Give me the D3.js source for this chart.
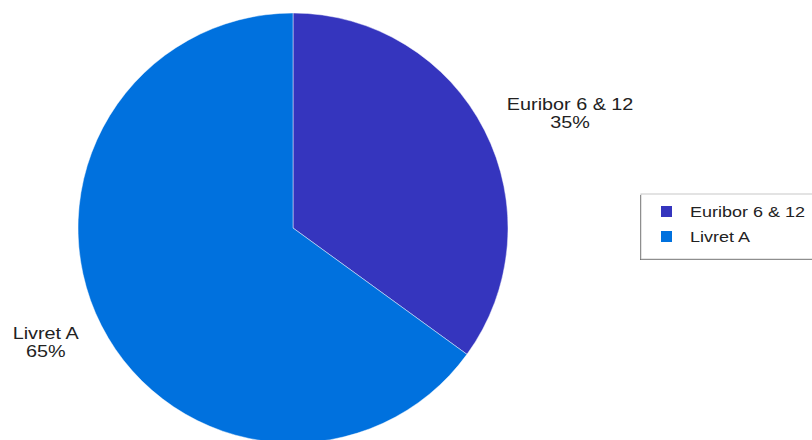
<!DOCTYPE html>
<html>
<head>
<meta charset="utf-8">
<script src="https://cdn.jsdelivr.net/npm/d3@7"></script>
<style>
  html, body { margin: 0; padding: 0; background: #fff; }
  svg { display: block; font-family: "Liberation Sans", Arial, sans-serif; }
</style>
</head>
<body>
<svg id="chart" width="812" height="440"></svg>
<script>
// Share of each index
const categories = ["Euribor 6 & 12", "Livret A"];
const shares = [35, 65];
const colors = ["#3535be", "#0071de"];

const W = 812, H = 440;
const cx = 293, cy = 228, R = 215;
const wide = 1.2;          // horizontal stretch of the lettering

const svg = d3.select("#chart");

const pie = d3.pie().sort(null).value(d => d.v);
const arcs = pie(categories.map((c, i) => ({ name: c, v: shares[i], color: colors[i] })));
const arc = d3.arc().innerRadius(0).outerRadius(R);
const labelArcX = d3.arc().innerRadius(240).outerRadius(240);
const labelArcY = d3.arc().innerRadius(252).outerRadius(252);

const g = svg.append("g").attr("transform", `translate(${cx},${cy})`);

g.selectAll("path.slice")
  .data(arcs)
  .enter().append("path")
  .attr("class", "slice")
  .attr("d", arc)
  .attr("fill", d => d.data.color)
  .attr("stroke", "rgba(255,255,255,0.45)")
  .attr("stroke-width", 1);

// Outside labels: name and percentage, anchored at the mid-angle point
const labels = g.selectAll("g.lbl")
  .data(arcs)
  .enter().append("g")
  .attr("class", "lbl");

labels.each(function (d) {
  const sel = d3.select(this);
  const px = labelArcX.centroid(d)[0];
  const py = labelArcY.centroid(d)[1];
  const right = px >= 0;
  const inner = sel.append("g").attr("transform", `scale(${wide},1)`);
  const t = inner.append("text")
    .attr("text-anchor", "middle")
    .attr("font-size", 16.5)
    .attr("fill", "#222");
  t.append("tspan").attr("x", 0).attr("y", 0).text(d.data.name);
  t.append("tspan").attr("x", 0).attr("y", 18).text(Math.round(d.data.v) + "%");
  const bb = t.node().getBBox();
  const w = bb.width * wide;
  const x = right ? px + w / 2 : px - w / 2;
  const y = py - (bb.y + bb.height / 2);
  sel.attr("transform", `translate(${x},${y})`);
});

// Legend box
const lx = 641, ly = 194, lw = 180, lh = 65;
const legend = svg.append("g");
legend.append("rect")
  .attr("x", lx - 1).attr("y", ly + 1).attr("width", lw).attr("height", lh)
  .attr("fill", "#555");
legend.append("rect")
  .attr("x", lx).attr("y", ly).attr("width", lw).attr("height", lh)
  .attr("fill", "#fff").attr("stroke", "#c8c8c8").attr("stroke-width", 1);

const rowY = d3.scalePoint().domain(categories).range([ly + 18, ly + 43]);
const items = legend.selectAll("g.item")
  .data(categories)
  .enter().append("g")
  .attr("class", "item")
  .attr("transform", d => `translate(${lx + 20},${rowY(d)})`);
items.append("rect")
  .attr("x", 0).attr("y", -6).attr("width", 11).attr("height", 11)
  .attr("fill", (d, i) => colors[i]);
items.append("g")
  .attr("transform", `translate(29,5) scale(${wide},1)`)
  .append("text")
  .attr("font-size", 15)
  .attr("fill", "#222")
  .text(d => d);
</script>
</body>
</html>
